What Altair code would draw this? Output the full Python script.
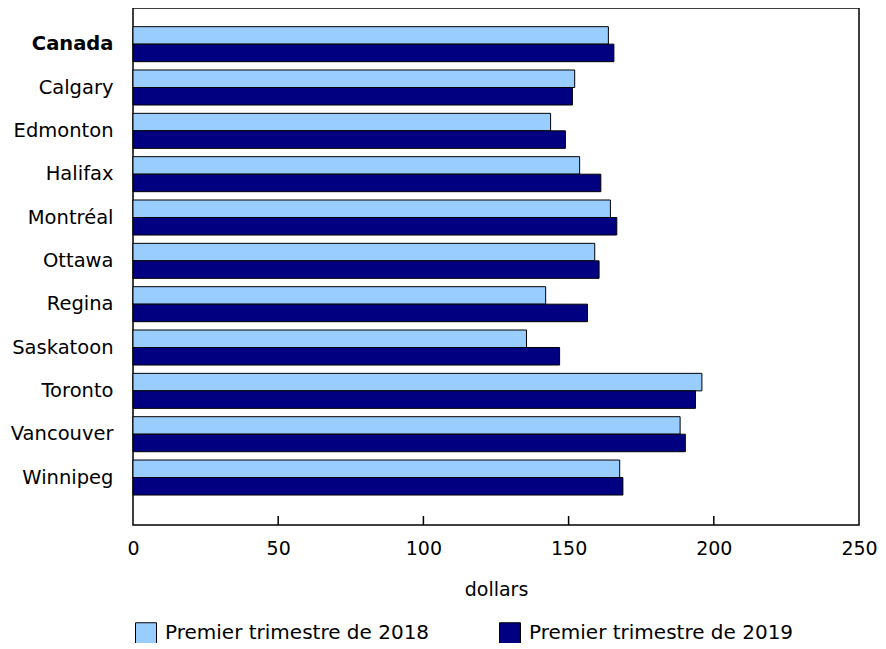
import altair as alt
import pandas as pd

cities = ["Canada", "Calgary", "Edmonton", "Halifax", "Montréal", "Ottawa",
          "Regina", "Saskatoon", "Toronto", "Vancouver", "Winnipeg"]
q1_2018 = [163.7, 152.1, 143.8, 153.8, 164.4, 159.0, 142.1, 135.5, 195.9, 188.4, 167.6]
q1_2019 = [165.6, 151.3, 148.9, 161.1, 166.6, 160.5, 156.5, 146.9, 193.7, 190.2, 168.7]
series = ["Premier trimestre de 2018", "Premier trimestre de 2019"]
colors = ["#99CCFF", "#000080"]
x_ticks = [0, 50, 100, 150, 200, 250]
inner_ticks = [50, 100, 150, 200]

rows = []
for c, a, b in zip(cities, q1_2018, q1_2019):
    rows.append({"ville": c, "serie": series[0], "valeur": a})
    rows.append({"ville": c, "serie": series[1], "valeur": b})
df = pd.DataFrame(rows)
ticks_df = pd.DataFrame({"valeur": inner_ticks})

W, H = 726, 517
FONT = "DejaVu Sans"

x_scale = alt.Scale(domain=[0, 250], nice=False, zero=True)
x_axis = alt.Axis(values=x_ticks, title="dollars", tickSize=0, domain=False,
                  grid=False, labelFontSize=19, labelPadding=14,
                  titleFontSize=19, titleFontWeight="normal", titlePadding=22,
                  labelFont=FONT, titleFont=FONT, labelColor="black",
                  titleColor="black", labelFlush=False, format="d")

bars = alt.Chart(df).mark_bar(stroke="black", strokeWidth=1).encode(
    x=alt.X("valeur:Q", scale=x_scale, axis=x_axis),
    y=alt.Y("ville:N", sort=cities,
            scale=alt.Scale(range=[14.5, 491.2], paddingInner=0.192, paddingOuter=0.096),
            axis=alt.Axis(title=None, domain=False, ticks=False, labelFontSize=19.5,
                          labelPadding=20, labelFont=FONT, labelColor="black",
                          labelFontWeight=alt.expr("datum.value == 'Canada' ? 'bold' : 'normal'"))),
    yOffset=alt.YOffset("serie:N", sort=series,
                        scale=alt.Scale(paddingInner=0, paddingOuter=0)),
    color=alt.Color("serie:N", sort=series,
                    scale=alt.Scale(domain=series, range=colors),
                    legend=alt.Legend(orient="none", legendX=2, legendY=614,
                                      direction="horizontal", title=None,
                                      symbolType="square", symbolSize=441,
                                      symbolStrokeColor="black", symbolStrokeWidth=1,
                                      symbolOpacity=1,
                                      labelFontSize=20, labelFont=FONT, labelColor="black",
                                      labelOffset=8, columnPadding=67, padding=0,
                                      labelLimit=400)),
)

ticks = alt.Chart(ticks_df).mark_rule(color="black", strokeWidth=1.5).encode(
    x=alt.X("valeur:Q", scale=x_scale, axis=x_axis),
    y=alt.value(H - 9),
    y2=alt.value(H),
)

chart = alt.layer(bars, ticks).properties(
    width=W, height=H,
    autosize=alt.AutoSizeParams(type="none"),
    padding={"left": 125, "top": 0, "right": 19, "bottom": 118},
).configure_view(stroke="black", strokeWidth=1.5)

chart.save("out.html", embed_options={"renderer": "svg", "actions": False})
